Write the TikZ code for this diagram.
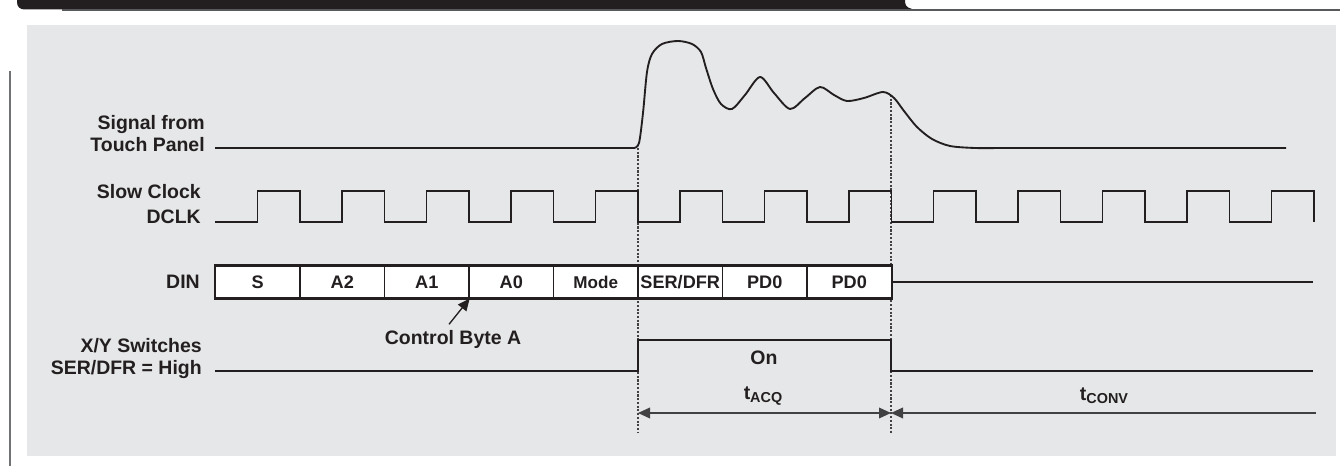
\documentclass[tikz,border=0pt]{standalone}
\usepackage{fontspec}
\setmainfont{Liberation Sans}
\usetikzlibrary{arrows.meta}
\definecolor{panelgray}{HTML}{E6E7E8}
\definecolor{ink}{HTML}{231F20}
\definecolor{rulegray}{HTML}{58595B}
\definecolor{spangray}{HTML}{414042}
\newcommand{\tsubs}[1]{\raisebox{-0.3ex}{\fontsize{10.8}{12}\selectfont #1}}

\begin{document}
\begin{tikzpicture}[x=0.75pt, y=-0.75pt, >={Triangle[length=9pt, width=8pt]},
    wave/.style={ink, line width=1.4pt},
    lbl/.style={anchor=east, align=right, text=ink, inner sep=0pt,
                font=\fontsize{14.6}{16}\selectfont\bfseries},
    txt/.style={text=ink, inner sep=0pt, font=\fontsize{14.6}{16}\selectfont\bfseries},
    cell/.style={draw=ink, line width=0.9pt, fill=white, inner sep=0pt,
                 minimum width=63.4pt, minimum height=24pt, text=ink,
                 font=\fontsize{13.6}{15}\selectfont\bfseries},
    guide/.style={ink!85, line width=0.8pt, dash pattern=on 1.6pt off 1.2pt},
    span/.style={spangray, line width=1.1pt}]
    \useasboundingbox (0,0) rectangle (1340,466);

    % page header and panel
    \fill[ink] (17,-1) -- (17,2) .. controls (17,7) and (20,9.5) .. (25,9.5)
        -- (917,9.5) .. controls (910,9.5) and (905,7) .. (905,2) -- (905,-1) -- cycle;
    \draw[rulegray, line width=1pt] (62,10) -- (1340,10);
    \fill[panelgray] (27,25) rectangle (1336,456);
    \draw[rulegray!85, line width=1.5pt] (10,71) -- (10,466);

    % acquisition window markers
    \coordinate (rise) at (638,148);
    \coordinate (riseEnd) at (638,433);
    \coordinate (settle) at (891,95);
    \coordinate (settleEnd) at (891,433);
    \draw[guide] (rise) -- (riseEnd);
    \draw[guide] (settle) -- (settleEnd);

    % touch panel signal: ringing after the switches close
    \node[lbl] (panel) at (205,133.7) {Signal from\\Touch Panel};
    \draw[wave] (215,148) -- plot[smooth, tension=0.5] coordinates {
        (634,148) (639,143) (643,113) (647,72) (652,54) (662,44) (678,41)
        (692,44) (701,52) (706,68) (713,89) (721,104) (732,109) (745,95)
        (760,77) (774,93) (790,109) (805,98) (820,87) (834,95) (847,101)
        (864,98) (883,92) (894,98) (904,111) (917,127) (932,139) (950,146)
        (975,148) (1000,148)} -- (1286,148);

    % slow clock
    \node[lbl] (dclk) at (201,204.4) {Slow Clock\\[2.7pt]DCLK};
    \draw[wave] (215,222) \foreach \k in {0,...,12} {
        -- ({257.5+84.5*\k},222) -- ({257.5+84.5*\k},191)
        -- ({300+84.5*\k},191) -- ({300+84.5*\k},222)};

    % DIN: control byte bits
    \node[lbl] (din) at (200,282) {DIN};
    \foreach \bit [count=\i] in {S,A2,A1,A0,{\fontsize{12.8}{14}\selectfont Mode},SER/DFR,PD0,PD0}
        \node[cell] (bit\i) at ({257.75+84.5*(\i-1)},282) {\bit};
    \draw[ink, line width=1.5pt] (bit1.north west) rectangle (bit8.south east);
    \coordinate (dinEnd) at (1313,282);
    \draw[wave] (bit8.east) -- (dinEnd);
    \node[txt] (ctrl) at (453,339) {Control Byte A};
    \draw[ink, line width=1pt, -{Triangle[length=9pt, width=8pt]}]
        ([xshift=-3pt, yshift=4pt]ctrl.north) -- (bit3.south east);

    % X/Y switches
    \node[lbl] (xy) at (202,359) {X/Y Switches\\[0.5pt]SER/DFR = High};
    \draw[wave] (215,371) -- (638,371) -- (638,340) -- (891,340) -- (891,371) -- (1313,371);
    \node[txt] (on) at (764,358) {On};

    % acquisition and conversion times
    \coordinate (acqL) at (638,413);
    \coordinate (acqR) at (891,413);
    \coordinate (convR) at (1316,413);
    \draw[span, <->] (acqL) -- (acqR);
    \draw[span, <-] (acqR) -- (convR);
    \node[txt] (tacq) at (763,396) {t\tsubs{ACQ}};
    \node[txt] (tconv) at (1104,396) {t\tsubs{CONV}};
\end{tikzpicture}
\end{document}
